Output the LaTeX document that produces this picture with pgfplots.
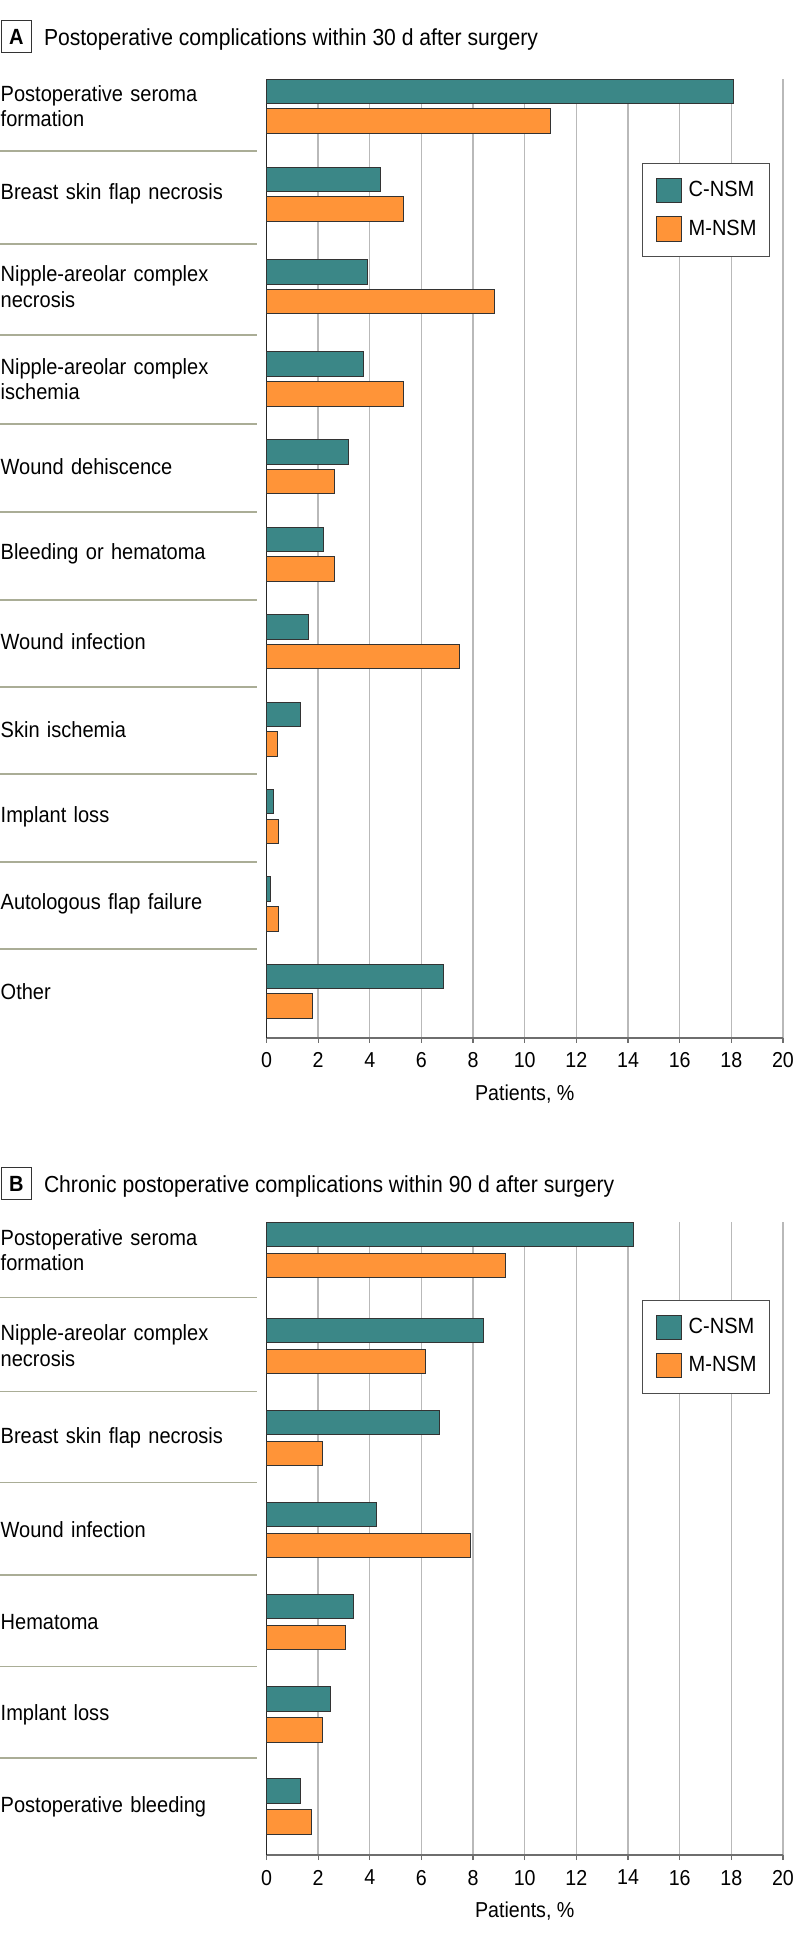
\documentclass[border=0pt]{standalone}
\usepackage{fontspec}
\setmainfont{Liberation Sans}[FakeStretch=0.91]
\usepackage{pgfplots}
\pgfplotsset{compat=1.18}
\usepackage{pgfplotstable}

\definecolor{cnsm}{RGB}{59,135,135}
\definecolor{mnsm}{RGB}{255,148,56}
\definecolor{gridc}{RGB}{185,185,185}
\definecolor{sepc}{RGB}{170,173,150}
\definecolor{axc}{RGB}{110,110,110}

% pos = vertical position of the category (px from top), values in % of patients
\pgfplotstableread{
pos cnsm mnsm
106.3 18.1 11.0
194.2 4.43 5.30
286.7 3.92 8.81
379.0 3.77 5.30
466.8 3.17 2.65
554.2 2.21 2.65
641.7 1.64 7.48
729.2 1.33 0.44
816.5 0.28 0.45
904.0 0.15 0.45
991.3 6.85 1.77
}\dataA

\pgfplotstableread{
pos cnsm mnsm
1250.0 14.22 9.24
1345.7 8.39 6.14
1437.7 6.68 2.18
1529.8 4.27 7.91
1622.0 3.38 3.06
1714.3 2.49 2.18
1806.5 1.32 1.74
}\dataB

\pgfplotsset{
  panel/.style={
    scale only axis, width=258.25pt,
    xmin=0, xmax=20, y dir=reverse,
    xtick={0,2,...,20},
    xmajorgrids, grid style={gridc, line width=0.65pt},
    axis x line*=bottom, axis y line*=left,
    x axis line style={axc, line width=1pt, -},
    y axis line style={black!85, line width=0.5pt, -},
    tick align=outside, major tick length=2.5pt,
    x tick style={axc, line width=0.6pt},
    y tick style={draw=none},
    /pgf/number format/assume math mode=true,
    xticklabel style={font=\fontsize{10.8}{12}\selectfont, yshift=-1.5pt},
    xlabel={Patients, \%},
    xlabel style={font=\fontsize{10.8}{12}\selectfont, at={(axis description cs:0.5,0)}, anchor=center, yshift=-28pt},
    yticklabel style={font=\fontsize{11}{12.8}\selectfont, align=left, text width=128pt, anchor=west, inner sep=0pt, xshift=-130.6pt},
    xbar, clip=false,
    legend cell align=left,
    legend image code/.code={\draw[#1, line width=0.5pt] (0pt,-6.1pt) rectangle (12.5pt,6.1pt);},
    legend style={draw=black!70, line width=0.5pt, font=\fontsize{11}{12}\selectfont,
      inner xsep=6.6pt, inner ysep=7.4pt, row sep=6.4pt, column sep=3.5pt,
      nodes={inner sep=0pt}},
  },
  cbar/.style={fill=cnsm, draw=black!80, line width=0.5pt},
  mbar/.style={fill=mnsm, draw=black!80, line width=0.5pt},
}

\begin{document}
\begin{tikzpicture}
\useasboundingbox (0,0) rectangle (399pt,-970pt);

% panel A
\draw[black!80, line width=0.5pt] (0.6pt,-10.35pt) rectangle (15.7pt,-26.15pt);
\node[font=\bfseries\fontsize{11}{12}\selectfont] at (8.15pt,-18.25pt) {A};
\node[anchor=base west, inner sep=0pt, font=\fontsize{11.6}{13}\selectfont] at (21.8pt,-22.5pt)
  {Postoperative complications within 30 d after surgery};

\begin{axis}[panel, at={(133.25pt,-39.65pt)}, anchor=north west, height=479.2pt,
  ymin=79.3, ymax=1037.7, bar width=24.5,
  ytick={106.3,194.2,286.7,379.0,466.8,554.2,641.7,729.2,816.5,904.0,991.3},
  yticklabels={{Postoperative seroma\\formation},{Breast skin flap necrosis},
    {Nipple-areolar complex\\necrosis},{Nipple-areolar complex\\ischemia},
    {Wound dehiscence},{Bleeding or hematoma},{Wound infection},{Skin ischemia},
    {Implant loss},{Autologous flap failure},{Other}},
  legend style={at={(0.727,0.913)}, anchor=north west}]
  \addplot[cbar, bar shift=-14.8] table[x=cnsm, y=pos] {\dataA};
  \addlegendentry{C-NSM}
  \addplot[mbar, bar shift=14.8] table[x=mnsm, y=pos] {\dataA};
  \addlegendentry{M-NSM}
  \pgfplotsinvokeforeach{151,244,335,424,512,600,687,774,862,949}{
    \draw[sepc, line width=0.6pt] (axis cs:-10.32,#1) -- (axis cs:-0.356,#1);
  }
\end{axis}

% panel B
\draw[black!80, line width=0.5pt] (0.6pt,-583.85pt) rectangle (15.7pt,-599.65pt);
\node[font=\bfseries\fontsize{11}{12}\selectfont] at (8.15pt,-591.75pt) {B};
\node[anchor=base west, inner sep=0pt, font=\fontsize{11.6}{13}\selectfont] at (21.8pt,-596pt)
  {Chronic postoperative complications within 90 d after surgery};

\begin{axis}[panel, at={(133.25pt,-611.15pt)}, anchor=north west, height=316.35pt,
  ymin=1222.3, ymax=1855, bar width=24.4,
  ytick={1250.0,1345.7,1437.7,1529.8,1622.0,1714.3,1806.5},
  yticklabels={{Postoperative seroma\\formation},{Nipple-areolar complex\\necrosis},
    {Breast skin flap necrosis},{Wound infection},{Hematoma},{Implant loss},
    {Postoperative bleeding}},
  legend style={at={(0.727,0.878)}, anchor=north west}]
  \addplot[cbar, bar shift=-15.5] table[x=cnsm, y=pos] {\dataB};
  \addlegendentry{C-NSM}
  \addplot[mbar, bar shift=15.5] table[x=mnsm, y=pos] {\dataB};
  \addlegendentry{M-NSM}
  \pgfplotsinvokeforeach{1297.8,1391.8,1482.2,1575,1666.5,1758}{
    \draw[sepc, line width=0.6pt] (axis cs:-10.32,#1) -- (axis cs:-0.356,#1);
  }
\end{axis}
\end{tikzpicture}
\end{document}
